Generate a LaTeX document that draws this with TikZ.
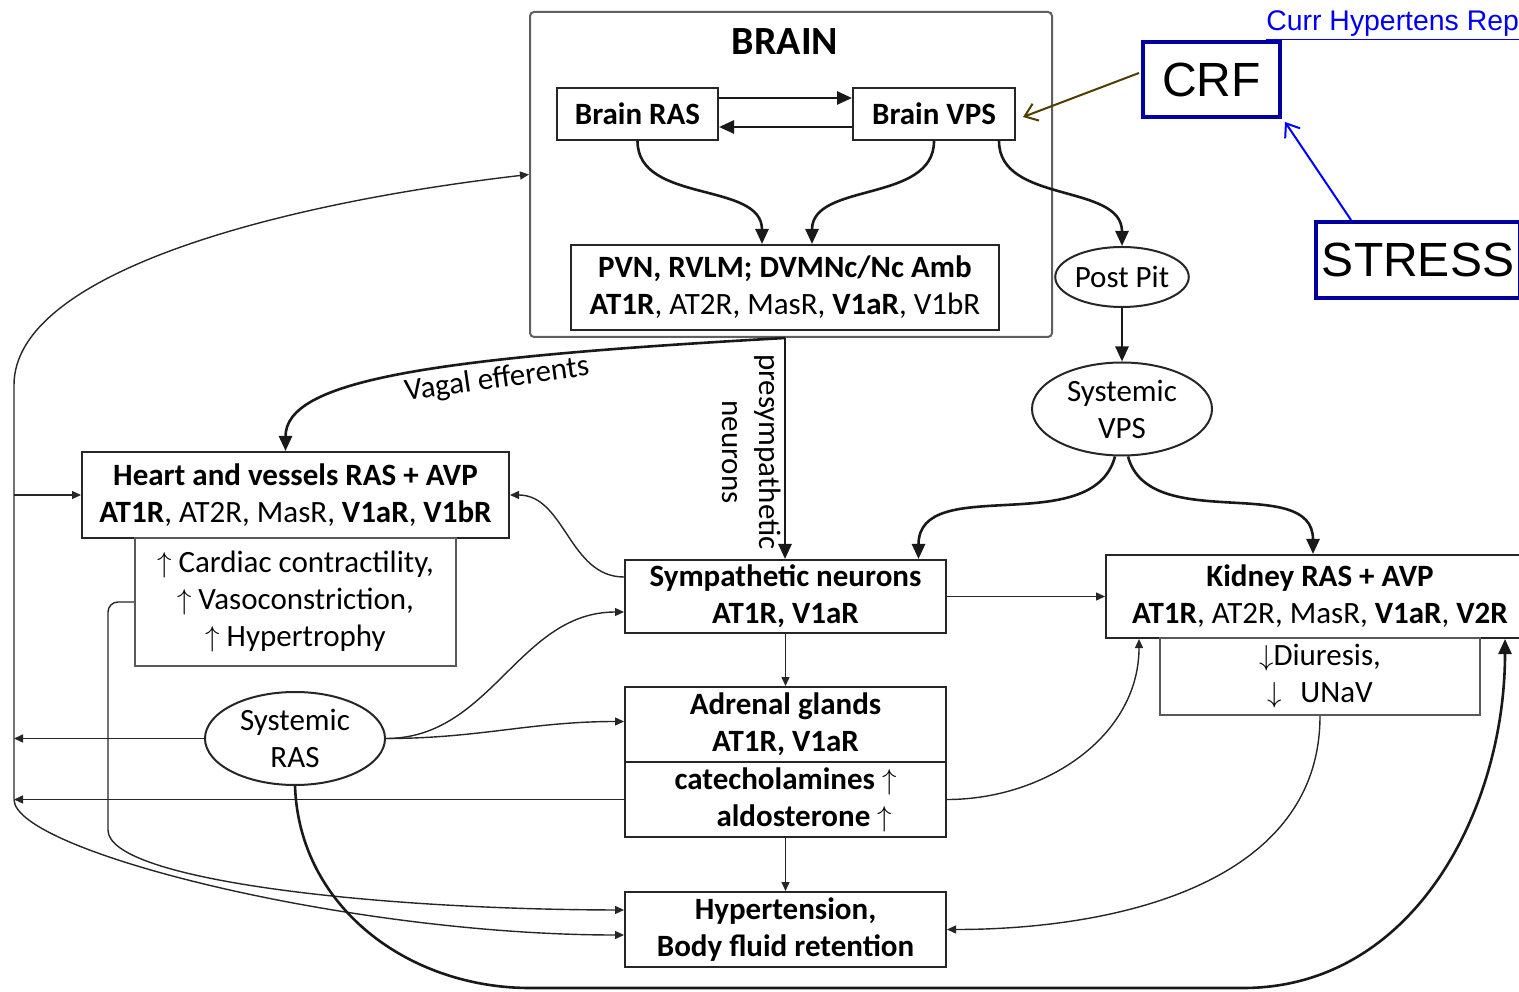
\documentclass[tikz,border=0pt]{standalone}
\usepackage{fontspec}
\setmainfont{Carlito}
\newfontfamily\arialfont{Liberation Sans}
\usetikzlibrary{arrows.meta,calc,shapes.geometric}

\definecolor{crfblue}{RGB}{0,0,160}
\definecolor{linkblue}{RGB}{0,0,238}
\definecolor{crfarrow}{RGB}{77,61,0}
\definecolor{stressblue}{RGB}{0,0,255}
\definecolor{framegray}{RGB}{95,95,95}

\newcommand{\bodysize}{\fontsize{15.5}{18.5}\selectfont}
\newcommand{\uarr}{$\uparrow$}
\newcommand{\darr}{$\downarrow$}

\tikzset{
  box/.style={draw=black!85, line width=1pt, align=center, inner sep=0pt, font=\bodysize},
  effbox/.style={draw=black!65, line width=0.8pt, align=center, inner sep=0pt, font=\bodysize},
  framebox/.style={draw=framegray, line width=1pt, rounded corners=2pt, inner sep=0pt},
  oval/.style={ellipse, draw=black!85, line width=1pt, align=center, inner sep=0pt, font=\bodysize},
  bluebox/.style={draw=crfblue, line width=2pt, inner sep=0pt, font=\arialfont\fontsize{24}{28}\selectfont},
  bigarrow/.style={draw=black!90, line width=1.3pt, -{Triangle[length=7.5pt,width=6.5pt]}},
  smallarrow/.style={draw=black!85, line width=0.7pt, -{Triangle[length=4.5pt,width=4pt]}},
  plainline/.style={draw=black!85, line width=0.7pt}
}

\begin{document}
\begin{tikzpicture}[x=0.5pt,y=0.5pt]
  \useasboundingbox (0,0) rectangle (1519,991);

  % brain block
  \node[framebox, minimum width=261pt, minimum height=162.5pt] (brain) at (791,816.5) {};
  \node[font=\fontsize{20}{24}\selectfont\bfseries] (braintitle) at (785,949) {BRAIN};
  \node[box, minimum width=80.5pt, minimum height=26pt, font=\bodysize\bfseries] (bras) at (637.5,877) {Brain RAS};
  \node[box, minimum width=81pt, minimum height=26pt, font=\bodysize\bfseries] (bvps) at (934,877) {Brain VPS};
  \node[box, minimum width=214pt, minimum height=42.5pt] (pvn) at (785,703.5)
    {\textbf{PVN, RVLM; DVMNc/Nc Amb}\\\textbf{AT1R}, AT2R, MasR, \textbf{V1aR}, V1bR};

  % vasopressin side
  \node[oval, minimum width=64pt, minimum height=30pt] (postpit) at (1122,714) {Post Pit};
  \node[oval, minimum width=90pt, minimum height=46.5pt] (sysvps) at (1122,582) {Systemic\\VPS};

  % stress input
  \node[bluebox, minimum width=68.5pt, minimum height=37.5pt] (crf) at (1211.5,911.5) {CRF};
  \node[bluebox, minimum width=102pt, minimum height=38pt] (stress) at (1418,731) {STRESS};
  \node[anchor=base west, inner sep=0pt, text=linkblue, font=\arialfont\fontsize{14.2}{16}\selectfont] (link) at (1266,960) {\underline{Curr Hypertens Rep}};

  % targets
  \node[box, minimum width=213.5pt, minimum height=43pt] (heart) at (295.5,496)
    {\textbf{Heart and vessels RAS + AVP}\\\textbf{AT1R}, AT2R, MasR, \textbf{V1aR}, \textbf{V1bR}};
  \node[effbox, minimum width=160.5pt, minimum height=64pt] (heff) at (295.5,389)
    {\uarr{} Cardiac contractility,\\\uarr{} Vasoconstriction,\\\uarr{} Hypertrophy};
  \node[box, minimum width=160.5pt, minimum height=36.5pt, font=\bodysize\bfseries] (sym) at (785.5,394.5)
    {Sympathetic neurons\\AT1R, V1aR};
  \node[box, minimum width=160.5pt, minimum height=37.5pt, font=\bodysize\bfseries] (adr) at (785.5,266.5)
    {Adrenal glands\\AT1R, V1aR};
  \node[box, minimum width=160.5pt, minimum height=37.5pt, font=\bodysize\bfseries] (adrl) at (785.5,191.5)
    {catecholamines \uarr\\\hspace*{1.2em}aldosterone \uarr};
  \node[box, minimum width=160.5pt, minimum height=37.5pt, font=\bodysize\bfseries] (hyp) at (785.5,61.5)
    {Hypertension,\\Body fluid retention};
  \node[oval, minimum width=90pt, minimum height=46.5pt] (sysras) at (295,252.5) {Systemic\\RAS};
  \node[box, minimum width=214pt, minimum height=41.5pt] (kid) at (1320,394.5)
    {\textbf{Kidney RAS + AVP}\\\textbf{AT1R}, AT2R, MasR, \textbf{V1aR}, \textbf{V2R}};
  \node[effbox, minimum width=160pt, minimum height=38.5pt] (keff) at (1320,314.5)
    {\darr Diuresis,\\\darr{}\hspace{0.6em}UNaV};

  \node[rotate=-90, align=center, font=\bodysize] (presym) at (752,539) {presympathetic\\neurons};
  \node[rotate=8, font=\bodysize] (vagal) at (497,611) {Vagal efferents};

  \coordinate (split) at (785,653);
  \coordinate (spine) at (14,606);
  \coordinate (hbend) at (108,171);
  \coordinate (botL) at (530,3);
  \coordinate (botR) at (1243,3);

  % inside the brain
  \draw[bigarrow] ([yshift=8pt]bras.east) -- ([yshift=8pt]bvps.west);
  \draw[bigarrow] ([yshift=-6.5pt]bvps.west) -- ([yshift=-6.5pt]bras.east);
  \draw[bigarrow] (bras.south) to[out=-90,in=90] ($(pvn.north)+(-23,0)$);
  \draw[bigarrow] (bvps.south) to[out=-90,in=90] ($(pvn.north)+(27,0)$);
  \draw[bigarrow] ($(bvps.south east)+(-17,0)$) to[out=-90,in=90] (postpit.north);
  \draw[bigarrow] (postpit.south) -- (sysvps.north);
  \draw[bigarrow] ($(sysvps.south)+(-7,0)$) to[out=-105,in=90] ($(sym.north)+(133,0)$);
  \draw[bigarrow] ($(sysvps.south)+(6,0)$) to[out=-75,in=90] ($(kid.north)+(-7,0)$);

  % efferents
  \draw[bigarrow] (split) .. controls ($(split)+(-360,-20)$) and ($(heart.north)+(-10,70)$) .. ($(heart.north)+(-10,0)$);
  \draw[bigarrow] (split) -- (split |- sym.north);

  % stress
  \draw[crfarrow, line width=1pt, -{Straight Barb[length=6pt,width=9pt]}] ($(crf.west)+(-2,6.5)$) -- ($(bvps.east)+(7,-3)$);
  \draw[stressblue, line width=1pt, -{Straight Barb[length=6pt,width=9pt]}] ($(stress.north west)+(37,0)$) -- ($(crf.south east)+(3,-3)$);

  % periphery
  \draw[smallarrow] ($(sym.north west)+(0,-18)$) to[out=180,in=0] (heart.east);
  \draw[smallarrow] (sysras.east) to[out=0,in=180] ($(sym.west)+(0,-15.5)$);
  \draw[smallarrow] (sysras.east) to[out=0,in=180] ($(adr.west)+(0,3)$);
  \draw[smallarrow] (sym.east) -- (kid.west);
  \draw[smallarrow] (sym.south) -- (adr.north);
  \draw[smallarrow] (adrl.south) -- (hyp.north);
  \draw[smallarrow] (adrl.east) to[out=0,in=-90] ($(kid.south west)+(34,0)$);
  \draw[smallarrow] (keff.south) to[out=-90,in=0] (hyp.east);

  % left side
  \draw[smallarrow] (sysras.west) -- (sysras.west -| spine);
  \draw[smallarrow] (adrl.west) -- (adrl.west -| spine);
  \draw[smallarrow] (adrl.west -| spine) -- (spine) .. controls ($(spine)+(0,110)$) and ($(brain.west)+(-260,-30)$) .. (brain.west);
  \draw[smallarrow] (heart.west -| spine) -- (heart.west);
  \draw[smallarrow] (adrl.west -| spine) .. controls (14,140) and ($(hyp.west)+(-275,-5.5)$) .. ($(hyp.west)+(0,-5.5)$);
  \draw[smallarrow, rounded corners=5pt] (heff.west) -| (hbend) .. controls ($(hbend)+(0,-60)$) and ($(hyp.west)+(-250,20)$) .. ($(hyp.west)+(0,19.5)$);

  % bottom loop
  \draw[bigarrow] (sysras.south) to[out=-88,in=180] (botL) -- (botR) to[out=0,in=-90] ($(kid.south)+(185,0)$);
\end{tikzpicture}
\end{document}
